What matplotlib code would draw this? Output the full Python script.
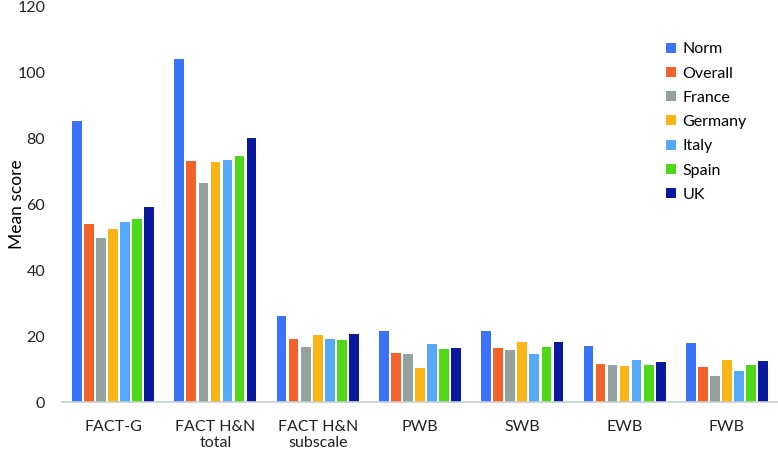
import numpy as np
import matplotlib
matplotlib.use("Agg")
import matplotlib.pyplot as plt

plt.rcParams['font.family'] = ['Lato', 'DejaVu Sans']

# scale / subscale names on the x axis
categories = ['FACT-G', 'FACT H&N\ntotal', 'FACT H&N\nsubscale', 'PWB', 'SWB', 'EWB', 'FWB']

# mean scores per group
norm    = [85.2, 103.9, 26.0, 21.5, 21.5, 16.9, 17.8]
overall = [54.0, 72.9, 19.0, 15.0, 16.5, 11.6, 10.7]
france  = [49.6, 66.3, 16.7, 14.5, 15.7, 11.2, 7.8]
germany = [52.3, 72.6, 20.3, 10.2, 18.2, 10.8, 12.8]
italy   = [54.6, 73.4, 19.0, 17.6, 14.4, 12.6, 9.3]
spain   = [55.6, 74.5, 18.9, 16.0, 16.6, 11.3, 11.3]
uk      = [59.1, 79.9, 20.7, 16.3, 18.1, 12.2, 12.3]

series = [norm, overall, france, germany, italy, spain, uk]
names = ['Norm', 'Overall', 'France', 'Germany', 'Italy', 'Spain', 'UK']
colors = ['#3A73F8', '#F4622B', '#94A19E', '#FBB415', '#55A9F8', '#4FD81A', '#0A189E']

fig = plt.figure(figsize=(7.78, 4.49), dpi=100)
ax = fig.add_axes([62/778, (449-402)/449, (778-62)/778, (402-6)/449])

x = np.arange(len(categories))
pitch = 0.118
width = 0.095
for i in range(len(series)):
    ax.bar(x + (i - 3) * pitch, series[i], width, color=colors[i], label=names[i])

ax.set_xlim(-0.5, 6.5)
ax.set_ylim(0, 120)
ax.set_yticks(np.arange(0, 121, 20))
ax.set_xticks(x)
ax.set_xticklabels(categories)
ax.tick_params(length=0, labelsize=11.5, colors='#222222')
ax.tick_params(axis='x', pad=13)
ax.tick_params(axis='y', pad=12)
for s in ['top', 'right', 'left']:
    ax.spines[s].set_visible(False)
ax.spines['bottom'].set_color('#C8D0D0')
ax.spines['bottom'].set_linewidth(1.2)

ax.set_ylabel('Mean score', fontsize=12.5)
ax.yaxis.set_label_coords(-0.051, 0.5)

ax.legend(loc='upper left', bbox_to_anchor=(598/716, 1-30/396), frameon=False,
          fontsize=11.5, handlelength=0.6, handleheight=0.6, handletextpad=0.4,
          labelspacing=0.64, borderaxespad=0)

fig.savefig('out.png', dpi=100)
